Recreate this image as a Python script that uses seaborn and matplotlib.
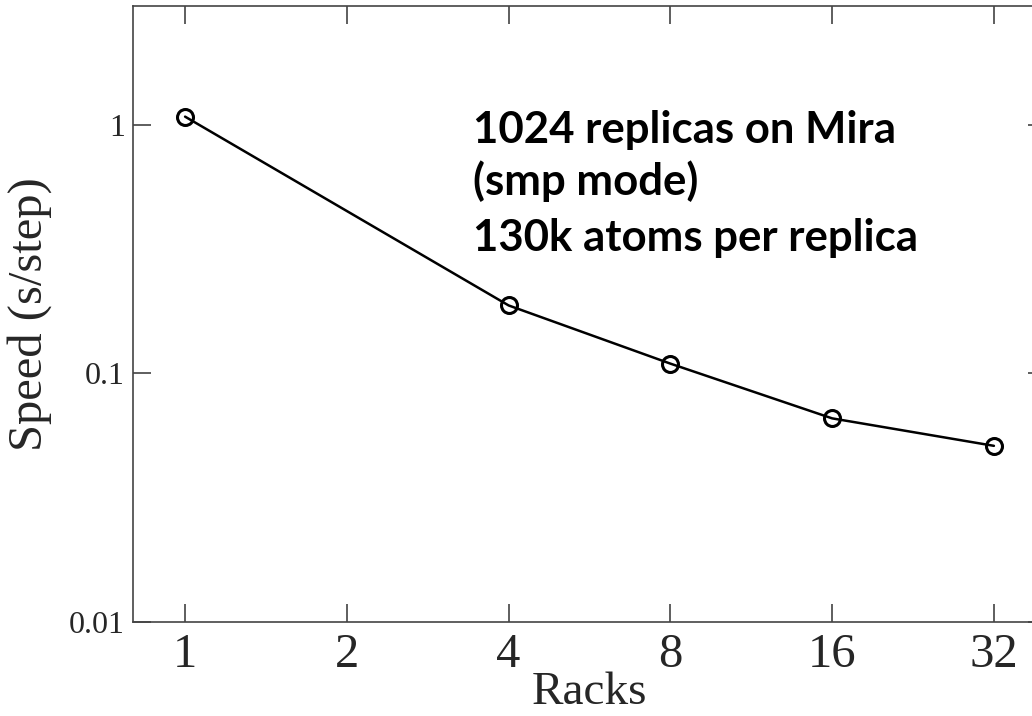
import matplotlib
matplotlib.use("Agg")
import matplotlib.pyplot as plt
import matplotlib.ticker as mticker
import seaborn as sns
import pandas as pd

racks = [1, 4, 8, 16, 32]
speed = [1.077, 0.1875, 0.1094, 0.0659, 0.0511]
x_ticks = [1, 2, 4, 8, 16, 32]
x_labels = ["1", "2", "4", "8", "16", "32"]
y_ticks = [0.01, 0.1, 1]
y_labels = ["0.01", "0.1", "1"]
note_lines = ["1024 replicas on Mira", "(smp mode)", "130k atoms per replica"]

sns.set_theme(style="white")
plt.rcParams["font.family"] = ["Liberation Serif", "DejaVu Serif"]

W, H = 1032, 716
fig = plt.figure(figsize=(W / 100, H / 100), dpi=100)
left, right, bottom, top = 133, 1046, 622, 6
ax = fig.add_axes([left / W, 1 - bottom / H, (right - left) / W, (bottom - top) / H])

df = pd.DataFrame({"Racks": racks, "Speed": speed})
sns.lineplot(data=df, x="Racks", y="Speed", ax=ax, color="black", linewidth=1.8,
             marker="o", markersize=11.5, markerfacecolor="none",
             markeredgecolor="black", markeredgewidth=2.2)

ax.set_xscale("log", base=2)
ax.set_yscale("log")
ax.set_xlim(0.8, 40)
ax.set_ylim(0.01, 3.0)
ax.xaxis.set_major_locator(mticker.FixedLocator(x_ticks))
ax.xaxis.set_major_formatter(mticker.FixedFormatter(x_labels))
ax.yaxis.set_major_locator(mticker.FixedLocator(y_ticks))
ax.yaxis.set_major_formatter(mticker.FixedFormatter(y_labels))
ax.xaxis.set_minor_locator(mticker.NullLocator())
ax.yaxis.set_minor_locator(mticker.NullLocator())

ax.tick_params(axis="both", which="major", direction="in", length=13, width=1.1,
               color="#333333", top=True, right=True, bottom=True, left=True)
ax.tick_params(axis="x", labelsize=35, pad=8)
ax.tick_params(axis="y", labelsize=23, pad=6)
for s in ax.spines.values():
    s.set_visible(True)
    s.set_color("#444444")
    s.set_linewidth(1.2)

ax.set_xlabel("Racks", fontsize=34)
ax.xaxis.label.set_va("baseline")
ax.xaxis.set_label_coords((589 - left) / (right - left), -(704 - bottom) / (bottom - top))
ax.set_ylabel("Speed (s/step)", fontsize=35, labelpad=12)
ax.grid(False)

baselines = [143, 195, 251]
for line, yb in zip(note_lines, baselines):
    fig.text(473 / W, 1 - yb / H, line, fontsize=31.5, fontweight="bold",
             family=["Lato", "DejaVu Sans"], ha="left", va="baseline", color="black")

fig.savefig("out.png", dpi=100)
